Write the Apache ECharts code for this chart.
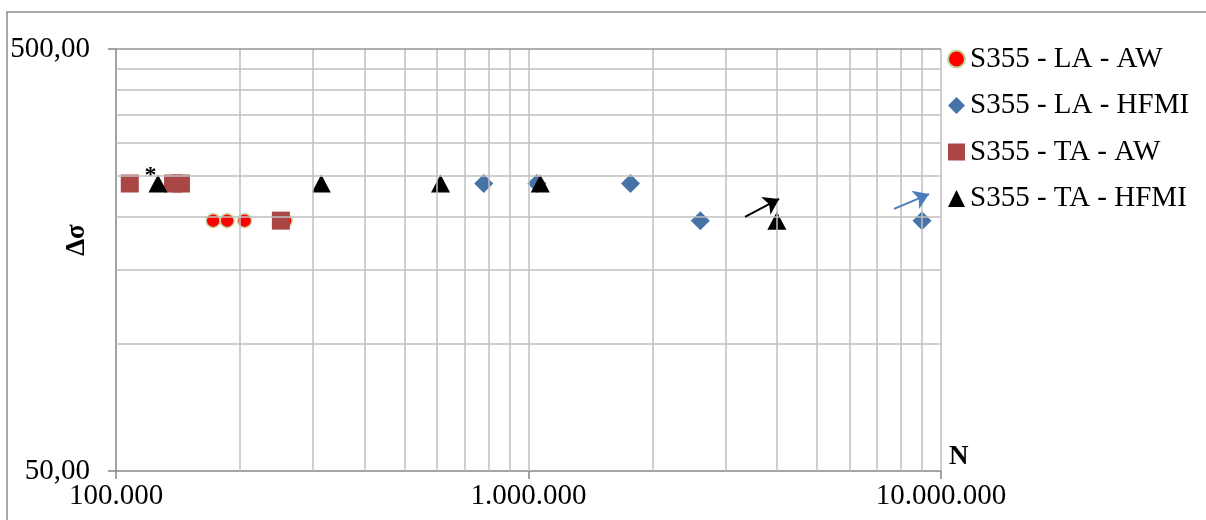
<!DOCTYPE html>
<html><head><meta charset="utf-8">
<script src="https://cdn.jsdelivr.net/npm/echarts@6/dist/echarts.min.js"></script>
<style>html,body{margin:0;padding:0;background:#fff}#c{width:1206px;height:520px}</style>
</head><body><div id="c"></div>
<script>
// ---- data ----
const seriesNames = ['S355 - LA - AW', 'S355 - LA - HFMI', 'S355 - TA - AW', 'S355 - TA - HFMI'];
const laAwN = [172000, 186000, 205000, 257000];
const laAwS = [196, 196, 196, 196];
const laHfmiN = [779000, 1048000, 1767000, 2609000, 8995000];
const laHfmiS = [240, 240, 240, 196, 196];
const taAwN = [108000, 137500, 143700, 251000];
const taAwS = [240, 240, 240, 196];
const taHfmiN = [126400, 314500, 612000, 1068000, 4000000];
const taHfmiS = [240, 240, 240, 240, 196];
const asteriskIndex = 0; // TA-HFMI point marked with '*'
const xTicks = [100000, 1000000, 10000000];
const yTicks = [50, 500];
const xGrid = [200000, 300000, 400000, 500000, 600000, 700000, 800000, 900000, 1000000,
  2000000, 3000000, 4000000, 5000000, 6000000, 7000000, 8000000, 9000000, 10000000];
const yGrid = [100, 150, 200, 250, 300, 350, 400, 450];
const yMajor = [500];
const arrowBlack = [[3349000, 200], [4050000, 220.6]];
const arrowBlue = [[7692000, 208.9], [9354000, 226.6]];

// ---- chart ----
const FONT = "'Liberation Serif','Times New Roman',serif";
const zip = (a, b) => a.map((v, i) => [v, b[i]]);
const fmtX = v => Math.round(v).toString().replace(/\B(?=(\d{3})+(?!\d))/g, '.');
const fmtY = v => (Math.round(v * 100) / 100).toFixed(2).replace('.', ',');

const taHfmiData = zip(taHfmiN, taHfmiS).map((p, i) => i === asteriskIndex ? {
  value: p,
  label: { show: true, formatter: '*', position: [-4, -11], fontSize: 24, fontWeight: 'bold', color: '#000', fontFamily: FONT }
} : p);

const chart = echarts.init(document.getElementById('c'), null, { renderer: 'canvas' });
chart.setOption({
  animation: false,
  backgroundColor: '#fff',
  graphic: [{
    type: 'rect', z: -10,
    shape: { x: 7, y: 12, width: 1220, height: 540 },
    style: { fill: 'none', stroke: '#8c8c8c', lineWidth: 1.5 }
  }],
  grid: { left: 116, right: 265, top: 49, bottom: 49, containLabel: false, outerBoundsMode: 'none' },
  legend: {
    data: seriesNames,
    orient: 'vertical',
    left: 942, top: 39,
    itemWidth: 17, itemHeight: 17, itemGap: 16.5,
    textStyle: { fontSize: 29, fontFamily: FONT, color: '#000', lineHeight: 30 }
  },
  xAxis: {
    type: 'log', logBase: 10, min: 100000, max: 10000000,
    name: 'N', nameLocation: 'end', nameGap: 8, nameMoveOverlap: false,
    nameTextStyle: { fontSize: 27, fontWeight: 'bold', fontFamily: FONT, color: '#000', verticalAlign: 'bottom', align: 'left' },
    axisLine: { show: true, lineStyle: { color: '#868686', width: 1.5 } },
    axisTick: { show: true, length: 8, customValues: xTicks, lineStyle: { color: '#868686', width: 1.5 } },
    axisLabel: { customValues: xTicks, formatter: fmtX, fontSize: 29, fontFamily: FONT, color: '#000', margin: 11 },
    splitLine: { show: false }, minorTick: { show: false }
  },
  yAxis: {
    type: 'log', logBase: 10, min: 50, max: 500,
    name: 'Δσ', nameLocation: 'middle', nameRotate: 90, nameGap: 25, nameMoveOverlap: false,
    nameTextStyle: { fontSize: 27, fontWeight: 'bold', fontFamily: FONT, color: '#000', padding: [0, 0, 0, 40] },
    axisLine: { show: true, lineStyle: { color: '#868686', width: 1.5 } },
    axisTick: { show: true, length: 8, customValues: yTicks, lineStyle: { color: '#868686', width: 1.5 } },
    axisLabel: { customValues: yTicks, formatter: fmtY, fontSize: 29, fontFamily: FONT, color: '#000', margin: 26 },
    splitLine: { show: false }
  },
  series: [
    {
      name: 'grid', type: 'scatter', data: [], z: 1, silent: true,
      markLine: {
        silent: true, symbol: 'none', animation: false,
        label: { show: false },
        lineStyle: { color: '#bfbfbf', width: 1.5, type: 'solid' },
        data: [
          ...xGrid.map(v => ({ xAxis: v })),
          ...yGrid.map(v => ({ yAxis: v })),
          ...yMajor.map(v => ({ yAxis: v, lineStyle: { color: '#969696' } }))
        ]
      }
    },
    {
      name: seriesNames[0], type: 'scatter', z: 3, symbol: 'circle', symbolSize: 14,
      itemStyle: { color: '#ff0000', borderColor: '#c3d69b', borderWidth: 1.5, opacity: 1 },
      data: zip(laAwN, laAwS)
    },
    {
      name: seriesNames[1], type: 'scatter', z: 3, symbol: 'diamond', symbolSize: 19,
      itemStyle: { color: '#4572a7', opacity: 1 },
      data: zip(laHfmiN, laHfmiS),
      markLine: {
        silent: true, symbol: ['none', 'arrow'], symbolSize: 15,
        label: { show: false },
        lineStyle: { color: '#4a7ebb', width: 2, type: 'solid' },
        data: [[{ coord: arrowBlue[0] }, { coord: arrowBlue[1] }]]
      }
    },
    {
      name: seriesNames[2], type: 'scatter', z: 3, symbol: 'rect', symbolSize: 18,
      itemStyle: { color: '#aa4643', opacity: 1 },
      data: zip(taAwN, taAwS)
    },
    {
      name: seriesNames[3], type: 'scatter', z: 3, symbol: 'triangle', symbolSize: [19, 18],
      itemStyle: { color: '#000000', opacity: 1 },
      data: taHfmiData,
      markLine: {
        silent: true, symbol: ['none', 'arrow'], symbolSize: 15,
        label: { show: false },
        lineStyle: { color: '#000', width: 2, type: 'solid' },
        data: [[{ coord: arrowBlack[0] }, { coord: arrowBlack[1] }]]
      }
    }
  ]
});
</script>
</body></html>
